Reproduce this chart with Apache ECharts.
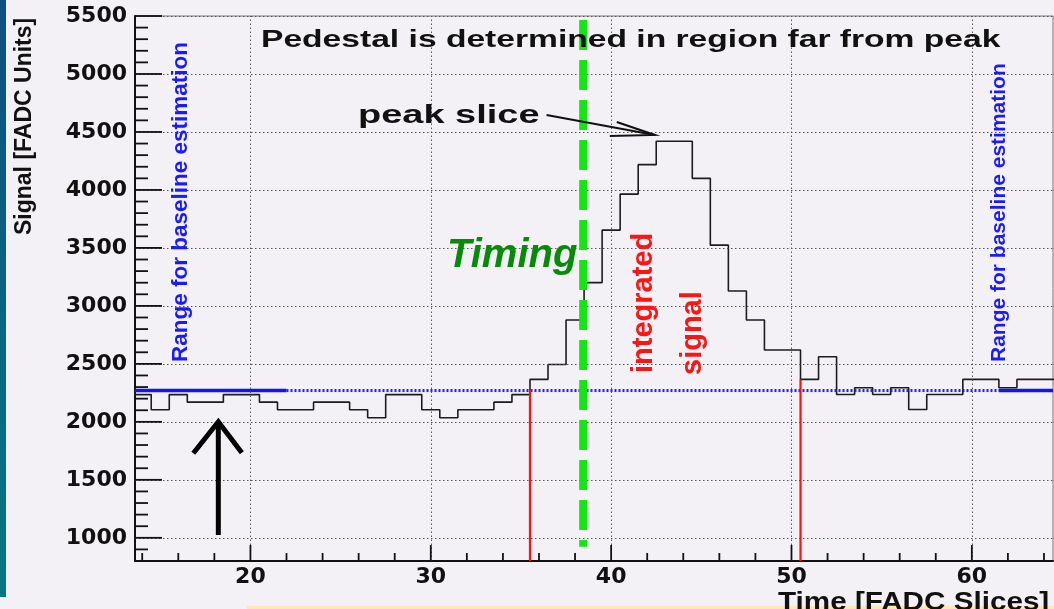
<!DOCTYPE html>
<html>
<head>
<meta charset="utf-8">
<script src="https://cdn.jsdelivr.net/npm/echarts@6/dist/echarts.min.js"></script>
<style>
  html, body { margin: 0; padding: 0; background: #f3f1f5; }
  #chart { width: 1054px; height: 609px; }
</style>
</head>
<body>
<div id="chart"></div>
<script>
// FADC trace: one value per time slice (bin centre)
const slices = [14, 15, 16, 17, 18, 19, 20, 21, 22, 23, 24, 25, 26, 27, 28, 29, 30, 31, 32, 33,
                34, 35, 36, 37, 38, 39, 40, 41, 42, 43, 44, 45, 46, 47, 48, 49, 50, 51, 52, 53,
                54, 55, 56, 57, 58, 59, 60, 61, 62, 63, 64, 65];
const signal = [2235, 2105, 2235, 2170, 2170, 2235, 2235, 2170, 2105, 2105, 2170, 2170, 2105, 2035, 2235, 2235, 2105, 2035, 2105, 2105,
                2170, 2235, 2366, 2495, 2878, 3201, 3653, 3964, 4218, 4420, 4420, 4100, 3524, 3129, 2878, 2619, 2619, 2366, 2562, 2236,
                2294, 2236, 2294, 2107, 2236, 2236, 2366, 2366, 2294, 2366, 2366, 2366];

// pedestal level and the slice ranges used to estimate it
const pedestal = 2270;
const baselineLeft = [13.6, 22];
const baselineRight = [61.5, 64.5];
// integration window edges and where each red edge line starts
const integrationEdges = [35.5, 50.5];
const integrationTops = [2275, 2366];
// timing marker
const timingSlice = 38.45;
const timingSpan = [923, 5465];

// axis ranges and ticks
const xRange = [13.6, 64.5];
const yRange = [800, 5500];
const xMinorTicks = [14, 16, 18, 22, 24, 26, 28, 32, 34, 36, 38, 42, 44, 46, 48, 52, 54, 56, 58, 62, 64];
const xMajorTicks = [20, 30, 40, 50, 60];
const yMinorTicks = [900, 1100, 1200, 1300, 1400, 1600, 1700, 1800, 1900, 2100, 2200, 2300, 2400,
                     2600, 2700, 2800, 2900, 3100, 3200, 3300, 3400, 3600, 3700, 3800, 3900,
                     4100, 4200, 4300, 4400, 4600, 4700, 4800, 4900, 5100, 5200, 5300, 5400];
const yMajorTicks = [1000, 1500, 2000, 2500, 3000, 3500, 4000, 4500, 5000, 5500];

// histogram outline: flat top over each slice, joined by vertical steps
const steps = [];
slices.forEach((s, i) => { steps.push([s - 0.5, signal[i]], [s + 0.5, signal[i]]); });

const labelFont = { fontFamily: 'DejaVu Sans', fontWeight: 'bold', fontSize: 22, color: '#111' };
const gridLine = { type: [1.5, 2.5], color: '#555', width: 1 };

const chart = echarts.init(document.getElementById('chart'), null, { renderer: 'canvas' });

const option = {
  animation: false,
  backgroundColor: '#f3f1f5',
  grid: { left: 135, right: 1, top: 16, bottom: 48, show: true, borderColor: '#777', borderWidth: 1, backgroundColor: 'transparent' },
  xAxis: {
    type: 'value', min: xRange[0], max: xRange[1], position: 'bottom',
    axisLine: { show: true, onZero: false, lineStyle: { color: '#111', width: 2 } },
    axisTick: { show: false },
    axisLabel: Object.assign({ show: true, margin: 5, customValues: xMajorTicks, formatter: v => String(v) }, labelFont),
    splitLine: { show: false }
  },
  yAxis: {
    type: 'value', min: yRange[0], max: yRange[1], position: 'left',
    axisLine: { show: true, onZero: false, lineStyle: { color: '#111', width: 2 } },
    axisTick: { show: false },
    axisLabel: Object.assign({ show: true, margin: 8, customValues: yMajorTicks, formatter: v => String(v) }, labelFont),
    splitLine: { show: false }
  },
  series: [
    {
      // dotted grid at the labelled ticks
      type: 'line', data: [], z: 1, silent: true,
      markLine: {
        silent: true, symbol: ['none', 'none'], label: { show: false }, animation: false,
        lineStyle: gridLine,
        data: yMajorTicks.map(v => ({ yAxis: v })).concat(xMajorTicks.map(v => ({ xAxis: v })))
      }
    },
    {
      name: 'signal', type: 'line', data: steps, showSymbol: false, symbol: 'none', z: 3, clip: true,
      lineStyle: { color: '#1c1c1c', width: 1.6 }
    },
    {
      name: 'pedestal', type: 'line', showSymbol: false, symbol: 'none', z: 4,
      data: [[baselineLeft[1], pedestal], [baselineRight[0], pedestal]],
      lineStyle: { color: '#1f1fff', width: 3, type: [2, 2] }
    },
    {
      name: 'baseline range left', type: 'line', showSymbol: false, symbol: 'none', z: 4,
      data: [[baselineLeft[0], pedestal], [baselineLeft[1], pedestal]],
      lineStyle: { color: '#1414f0', width: 3.5 }
    },
    {
      name: 'baseline range right', type: 'line', showSymbol: false, symbol: 'none', z: 4,
      data: [[baselineRight[0], pedestal], [baselineRight[1], pedestal]],
      lineStyle: { color: '#1414f0', width: 3.5 }
    },
    {
      name: 'window start', type: 'line', showSymbol: false, symbol: 'none', z: 5,
      data: [[integrationEdges[0], integrationTops[0]], [integrationEdges[0], yRange[0]]],
      lineStyle: { color: '#ff1010', width: 2.2 }
    },
    {
      name: 'window end', type: 'line', showSymbol: false, symbol: 'none', z: 5,
      data: [[integrationEdges[1], integrationTops[1]], [integrationEdges[1], yRange[0]]],
      lineStyle: { color: '#ff1010', width: 2.2 }
    },
    {
      name: 'timing', type: 'line', showSymbol: false, symbol: 'none', z: 6,
      data: [[timingSlice, timingSpan[1]], [timingSlice, timingSpan[0]]],
      lineStyle: { color: '#14e614', width: 8, type: [30, 10], cap: 'butt' }
    }
  ]
};
chart.setOption(option);

// pixel positions through the grid's own scales
const px = (x, v) => chart.convertToPixel({ gridIndex: 0 }, [x, v]);

// inward tick marks, a fixed pixel length from each axis
const tickLine = (p, q) => ({
  type: 'polyline', z: 80, shape: { points: [p, q] }, style: { stroke: '#111', lineWidth: 1.8, fill: null }
});
const xTick = (v, len) => { const p = px(v, yRange[0]); return tickLine(p, [p[0], p[1] - len]); };
const yTick = (v, len) => { const p = px(xRange[0], v); return tickLine(p, [p[0] + len, p[1]]); };
const ticks = []
  .concat(xMinorTicks.map(v => xTick(v, 8)))
  .concat(xMajorTicks.map(v => xTick(v, 16)))
  .concat(yMinorTicks.map(v => yTick(v, 13)))
  .concat(yMajorTicks.map(v => yTick(v, 27)));

// annotation arrows anchored in data space
const peakFrom = px(36.42, 4646);
const peakTip = px(42.42, 4474);
const upTip = px(18.22, 2001);
const upTail = px(18.22, 1024);

const txt = (x, y, text, font, fill, extra) => Object.assign({
  type: 'text', x: x, y: y, z: 100,
  style: { text: text, font: font, fill: fill, align: 'left', verticalAlign: 'middle' }
}, extra || {});

chart.setOption({
  graphic: ticks.concat([
    // slide edge and footer strip
    { type: 'rect', z: 50, shape: { x: 0, y: 0, width: 6, height: 597 },
      style: { fill: new echarts.graphic.LinearGradient(0, 0, 0, 1, [{ offset: 0, color: '#0f4f80' }, { offset: 1, color: '#087686' }]) } },
    { type: 'rect', z: 50, shape: { x: 247, y: 606, width: 807, height: 3 }, style: { fill: '#fbe8b6' } },

    txt(261, 40, 'Pedestal is determined in region far from peak', 'bold 24px "Liberation Sans", Arial, sans-serif', '#111', { scaleX: 1.40 }),
    txt(358, 116, 'peak slice', 'bold 26px "Liberation Sans", Arial, sans-serif', '#111', { scaleX: 1.46 }),
    txt(447, 256, 'Timing', 'italic bold 40px "Liberation Sans", Arial, sans-serif', '#078a07'),
    txt(643.5, 373, 'integrated', 'bold 29px "Liberation Sans", Arial, sans-serif', '#ff1414', { rotation: Math.PI / 2 }),
    txt(692.5, 375, 'signal', 'bold 29px "Liberation Sans", Arial, sans-serif', '#ff1414', { rotation: Math.PI / 2 }),
    txt(181, 362, 'Range for baseline estimation', 'bold 22.5px "Liberation Sans", Arial, sans-serif', '#1a1aff', { rotation: Math.PI / 2 }),
    txt(999.5, 362, 'Range for baseline estimation', 'bold 21px "Liberation Sans", Arial, sans-serif', '#1a1aff', { rotation: Math.PI / 2 }),
    txt(25, 235, 'Signal [FADC Units]', 'bold 23px "Liberation Sans", Arial, sans-serif', '#111', { rotation: Math.PI / 2 }),
    txt(778, 603, 'Time [FADC Slices]', 'bold 26px "Liberation Sans", Arial, sans-serif', '#111', { scaleX: 1.14 }),

    // arrow pointing at the peak slice
    { type: 'polyline', z: 90, shape: { points: [peakFrom, peakTip] }, style: { stroke: '#111', lineWidth: 2, fill: null } },
    { type: 'polyline', z: 90, shape: { points: [[peakTip[0] - 38, peakTip[1] - 13], peakTip, [peakTip[0] - 45, peakTip[1] + 1]] },
      style: { stroke: '#111', lineWidth: 2, fill: null } },
    // arrow pointing up at the pedestal
    { type: 'polyline', z: 90, shape: { points: [upTail, upTip] }, style: { stroke: '#000', lineWidth: 5, fill: null } },
    { type: 'polyline', z: 90, shape: { points: [[upTip[0] - 25, upTip[1] + 31.5], upTip, [upTip[0] + 23.5, upTip[1] + 31]] },
      style: { stroke: '#000', lineWidth: 5, fill: null, lineJoin: 'miter' } }
  ])
});
</script>
</body>
</html>
